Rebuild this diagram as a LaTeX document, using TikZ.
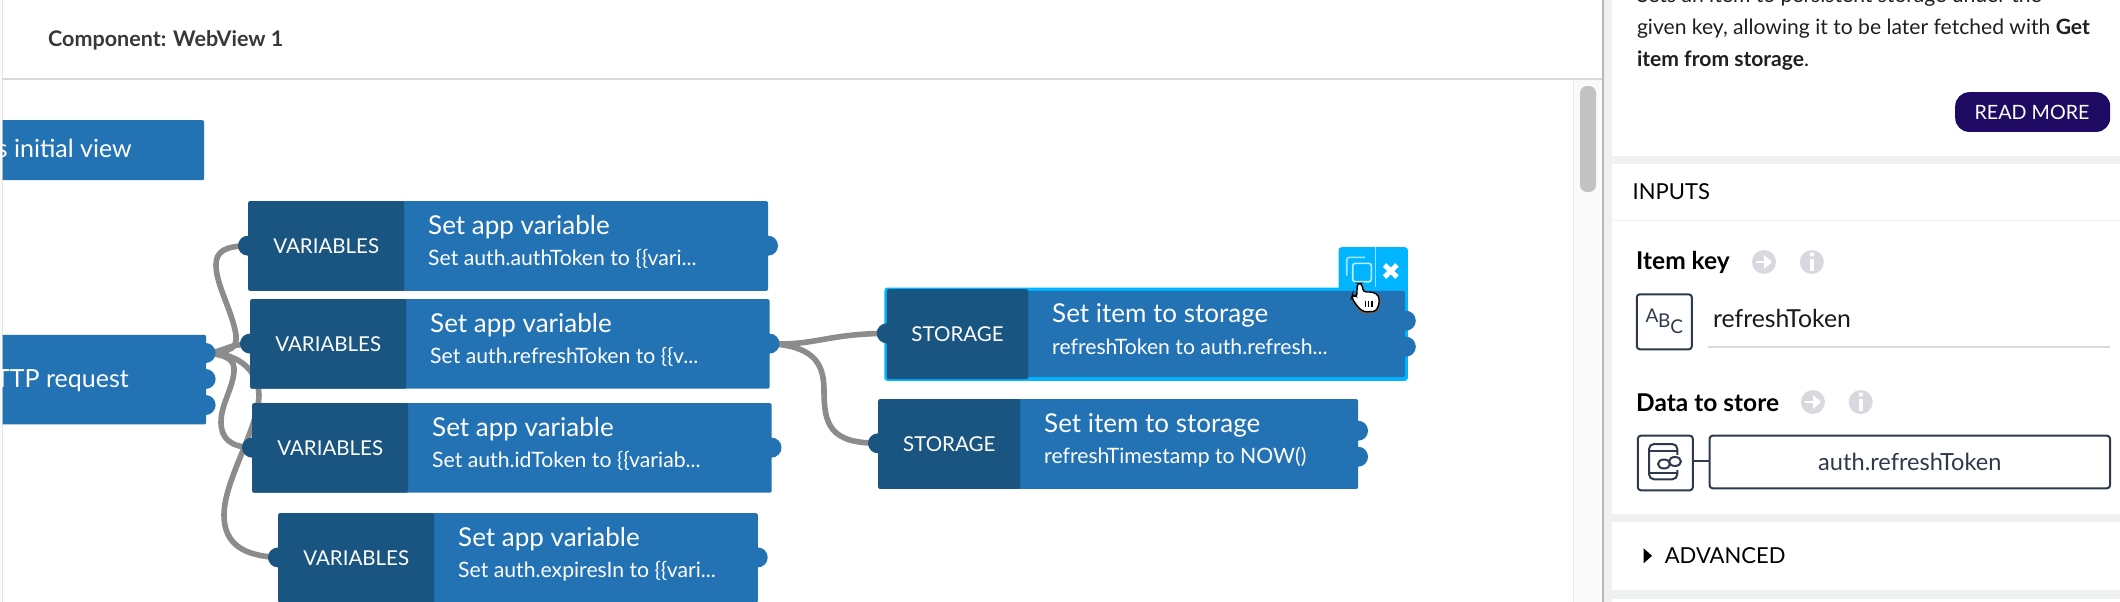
\documentclass[tikz,border=0pt]{standalone}
\usepackage{fontspec}
\setmainfont{Lato}
\usetikzlibrary{backgrounds}
\definecolor{blockblue}{HTML}{2272B4}
\definecolor{blockdark}{HTML}{1A5582}
\definecolor{wire}{HTML}{8C8C8C}
\definecolor{selcyan}{HTML}{00B4FF}
\definecolor{band}{HTML}{EFF0F2}
\definecolor{hairline}{HTML}{D8D9DE}
\definecolor{slate}{HTML}{2E3A4C}
\definecolor{navy}{HTML}{1F0A63}
\newcommand{\fs}[1]{\fontsize{#1}{#1}\selectfont}
\tikzset{
  block/.style={rectangle,fill=blockblue,rounded corners=2pt,inner sep=0pt,anchor=north west},
  side/.style={rectangle,fill=blockdark,rounded corners=2pt,inner sep=0pt,anchor=north west,text=white,font=\fs{20.5}},
  outport/.style={circle,fill=blockblue,minimum size=20pt,inner sep=0pt},
  inport/.style={circle,fill=blockdark,minimum size=20pt,inner sep=0pt},
  title/.style={anchor=west,inner sep=0pt,text=white,font=\fs{26}},
  sub/.style={anchor=west,inner sep=0pt,text=white,font=\fs{21.2}},
  wirepath/.style={draw=wire,line width=5.6pt,line cap=round},
  ptext/.style={anchor=base west,inner sep=0pt,text=black!88,font=\fs{21.1}},
  lab/.style={anchor=west,inner sep=0pt,text=black,font=\bfseries\fs{24.5}},
  caps/.style={anchor=west,inner sep=0pt,text=black,font=\fs{22}},
  graydot/.style={circle,fill=hairline,minimum size=24pt,inner sep=0pt},
  boxline/.style={draw=slate,line width=2pt,rounded corners=3pt},
  bandfill/.style={fill=band,draw=none}
}
\begin{document}
\begin{tikzpicture}[x=1pt,y=-1pt]
\useasboundingbox (0,0) rectangle (2120,602);
\begin{scope}[on background layer]
  \fill[white] (0,0) rectangle (2120,602);
\end{scope}
% chrome of the canvas
\fill[black!2] (0,0) rectangle (2,602);
\fill[black!11] (1.6,0) rectangle (2.6,602);
\node[anchor=west,inner sep=0pt,text=black!78,font=\bfseries\fs{21.5}] (comp) at (48,40.3) {Component: WebView 1};
\draw[hairline,line width=2pt] (2,79) -- (1602,79);
% scrollbar
\fill[black!2] (1573,80) rectangle (1602,602);
\draw[black!9,line width=1pt] (1573,80) -- (1573,602);
\fill[black!24,rounded corners=7pt] (1580,86) rectangle (1596,192);
% panel
\fill[band] (1602,0) rectangle (1612,602);
\fill[black!28] (1602,0) rectangle (1604,602);
\begin{scope}
\clip (2.6,80) rectangle (1573,602);
\node[block,minimum width=220pt,minimum height=60pt] (init) at (-16,120) {};
\node[anchor=base east,inner sep=0pt,text=white,font=\fs{25}] (inittext) at (132,157) {s initial view};
% http block
\node[outport] (h1) at (205.6,353) {};
\node[outport] (h2) at (205.6,379) {};
\node[outport] (h3) at (205.6,405) {};
\node[block,minimum width=222pt,minimum height=89.5pt] (http) at (-16,334.7) {};
\node[anchor=base east,inner sep=0pt,text=white,font=\fs{25}] (httptext) at (129,387) {TTP request};
% variables blocks
\node[inport] (v1i) at (248,245.7) {};
\node[outport] (v1o) at (768,245.7) {};
\node[block,minimum width=520pt,minimum height=89.6pt] (v1) at (248,201) {};
\node[side,minimum width=156pt,minimum height=89.6pt] (v1s) at (248,201) {VARIABLES};
\node[title] (v1t) at (428,227) {Set app variable};
\node[sub] (v1u) at (428,259) {Set auth.authToken to \{\{vari...};
\node[inport] (v2i) at (250,343.6) {};
\node[outport] (v2o) at (769.5,343.6) {};
\node[block,minimum width=519.5pt,minimum height=89.5pt] (v2) at (250,299) {};
\node[side,minimum width=156pt,minimum height=89.5pt] (v2s) at (250,299) {VARIABLES};
\node[title] (v2t) at (430,325) {Set app variable};
\node[sub] (v2u) at (430,357) {Set auth.refreshToken to \{\{v...};
\node[inport] (v3i) at (252,447.6) {};
\node[outport] (v3o) at (771.5,447.6) {};
\node[block,minimum width=519.5pt,minimum height=89.5pt] (v3) at (252,403) {};
\node[side,minimum width=156pt,minimum height=89.5pt] (v3s) at (252,403) {VARIABLES};
\node[title] (v3t) at (432,429) {Set app variable};
\node[sub] (v3u) at (432,461) {Set auth.idToken to \{\{variab...};
\node[inport] (v4i) at (278,557.4) {};
\node[outport] (v4o) at (757.7,557.4) {};
\node[block,minimum width=479.7pt,minimum height=89.5pt] (v4) at (278,513) {};
\node[side,minimum width=156pt,minimum height=89.5pt] (v4s) at (278,513) {VARIABLES};
\node[title] (v4t) at (458,539) {Set app variable};
\node[sub] (v4u) at (458,571) {Set auth.expiresIn to \{\{vari...};
% selected storage block
\node[rectangle,fill=selcyan,rounded corners=3pt,inner sep=0pt,anchor=north west,minimum width=69.4pt,minimum height=50pt] (tools) at (1338.3,247) {};
\draw[white!60!selcyan,line width=1pt] (1375.5,247) -- (1375.5,287);
\node[rectangle,fill=selcyan,rounded corners=3pt,inner sep=0pt,anchor=north west,minimum width=523.5pt,minimum height=93.4pt] (s1f) at (884.2,287.3) {};
\node[outport] (s1a) at (1405.8,320.7) {};
\node[outport] (s1b) at (1405.8,346.7) {};
\node[block,minimum width=518pt,minimum height=86.3pt] (s1) at (886.7,290.7) {};
\node[inport] (s1i) at (886.7,333.3) {};
\node[side,minimum width=141.3pt,minimum height=90pt] (s1s) at (886.7,289) {STORAGE};
\node[title] (s1t) at (1052,315) {Set item to storage};
\node[sub] (s1u) at (1052,347) {refreshToken to auth.refresh...};
% second storage block
\node[inport] (s2i) at (878,443.3) {};
\node[outport] (s2a) at (1358,430.7) {};
\node[outport] (s2b) at (1358,456.7) {};
\node[block,minimum width=480pt,minimum height=89.7pt] (s2) at (878,399) {};
\node[side,minimum width=142pt,minimum height=89.7pt] (s2s) at (878,399) {STORAGE};
\node[title] (s2t) at (1044,425) {Set item to storage};
\node[sub] (s2u) at (1044,457) {refreshTimestamp to NOW()};
% toolbar icons
\draw[white!65!selcyan,line width=1.6pt,rounded corners=2.5pt] (1346.7,275.7) -- (1346.7,257.3) -- (1365,257.3);
\draw[white!75!selcyan,line width=1.6pt,rounded corners=2.5pt] (1352.7,263.3) rectangle (1371.3,281.7);
\draw[white,line width=5pt] (1384.5,265) -- (1397,277) (1397,265) -- (1384.5,277);
% cursor
\begin{scope}[shift={(1300,230)},x=0.3333pt,y=-0.3333pt]
\fill[black!60,rounded corners=3pt] (176,162) -- (190,166) -- (196,190) -- (222,186) -- (240,198) -- (244,222) -- (232,248) -- (190,254) -- (172,238) -- (152,205) -- (156,192) -- (170,198) -- cycle;
\fill[white,draw=black,line width=1.4pt,rounded corners=3pt] (172,160) -- (185,160) -- (190,186) -- (218,186) -- (236,196) -- (238,220) -- (228,244) -- (192,246) -- (174,232) -- (155,204) -- (158,194) -- (170,202) -- cycle;
\draw[black,line width=1.2pt] (196,212) -- (196,232) (206,212) -- (206,232) (216,212) -- (216,232);
\end{scope}
% wires
\begin{scope}[on background layer]
\draw[wirepath] (h1.center) .. controls (232,352) and (237,348) .. (236,335) .. controls (232,310) and (216,285) .. (216,265) .. controls (216,252) and (224,246) .. (v1i.center);
\draw[wirepath] (h1.center) .. controls (225,352) and (225,345) .. (v2i.center);
\draw[wirepath] (h1.center) .. controls (228,355) and (235,360) .. (234,372) .. controls (232,390) and (221,405) .. (221,422) .. controls (221,438) and (230,447) .. (v3i.center);
\draw[wirepath] (h1.center) .. controls (235,352) and (258,368) .. (259,395) .. controls (258,430) and (224,480) .. (224,515) .. controls (224,545) and (245,556) .. (v4i.center);
\draw[wirepath] (v2o.center) .. controls (815,346) and (825,334) .. (s1i.center);
\draw[wirepath] (v2o.center) .. controls (810,346) and (824,360) .. (824,390) .. controls (824,425) and (830,443) .. (s2i.center);
\end{scope}
\end{scope}
% right panel text
\begin{scope}
\clip (1612,0) rectangle (2120,602);
\node[ptext] (p1) at (1636.8,2.7) {Sets an item to persistent storage under the};
\node[ptext] (p2) at (1636.8,34.7) {given key, allowing it to be later fetched with \textbf{Get}};
\node[ptext] (p3) at (1636.8,66.7) {\textbf{item from storage}.};
\node[rectangle,fill=navy,rounded corners=14pt,inner sep=0pt,minimum width=155pt,minimum height=39.7pt,anchor=north west] (rm) at (1955,92) {};
\node[inner sep=0pt,text=white,font=\fs{19.7}] (rmt) at (2032,112) {READ MORE};
\fill[band] (1612,156) rectangle (2120,164);
\node[caps] (inputs) at (1632.5,191.7) {INPUTS};
\draw[band,line width=1.5pt] (1612,220.7) -- (2120,220.7);
\node[lab] (ik) at (1636,262.7) {Item key};
\node[graydot] (ik1) at (1764,262) {};
\node[graydot] (ik2) at (1811.8,262) {};
\draw[white,line width=2.6pt] (1756,262) -- (1766,262);
\fill[white] (1764,255) -- (1772,262) -- (1764,269) -- cycle;
\fill[white] (1810,259) rectangle (1814,271);
\fill[white] (1811.8,254.5) circle (2.2pt);
\draw[boxline] (1636.8,294.3) rectangle (1691.8,349.3);
\node[inner sep=0pt,text=slate,font=\fs{19}] (aa) at (1652,316) {A};
\node[inner sep=0pt,text=slate,font=\fs{19}] (bb) at (1664.3,320.7) {B};
\node[inner sep=0pt,text=slate,font=\fs{19}] (cc) at (1676.8,326.7) {C};
\node[anchor=west,inner sep=0pt,text=black!90,font=\fs{24.8}] (rt) at (1712.9,318) {refreshToken};
\draw[hairline,line width=2pt] (1708,347) -- (2110,347);
\node[lab] (ds) at (1636,402.7) {Data to store};
\node[graydot] (ds1) at (1812.9,402) {};
\node[graydot] (ds2) at (1860.7,402) {};
\draw[white,line width=2.6pt] (1805,402) -- (1815,402);
\fill[white] (1813,395) -- (1821,402) -- (1813,409) -- cycle;
\fill[white] (1858.9,399) rectangle (1862.9,411);
\fill[white] (1860.7,394.5) circle (2.2pt);
\node[rectangle,boxline,minimum width=55pt,minimum height=54.6pt,inner sep=0pt,anchor=north west] (ib) at (1636.8,434.7) {};
\node[rectangle,boxline,minimum width=400.4pt,minimum height=52.6pt,inner sep=0pt,anchor=north west,text=slate,font=\fs{23.6}] (field) at (1708.6,434.7) {auth.refreshToken};
\draw[slate,line width=2pt] (ib.east |- 0,460.7) -- (field.west |- 0,460.7);
\draw[slate,line width=2pt,rounded corners=5pt] (1649,444) rectangle (1677.3,479.3);
\draw[slate,line width=2pt] (1649,451) -- (1677.3,451) (1649,472.7) -- (1677.3,472.7);
\fill[white] (1657,455) rectangle (1683,470);
\draw[slate,line width=2pt] (1664,464) ellipse (6pt and 4.5pt);
\draw[slate,line width=2pt] (1675,461.5) ellipse (6pt and 4.5pt);
\fill[band] (1612,514) rectangle (2120,522);
\fill[black] (1643.6,548.3) -- (1652,555.8) -- (1643.6,563.3) -- cycle;
\node[caps] (adv) at (1664.6,555.7) {ADVANCED};
\fill[band] (1612,590) rectangle (2120,598.7);
\end{scope}
\end{tikzpicture}
\end{document}
